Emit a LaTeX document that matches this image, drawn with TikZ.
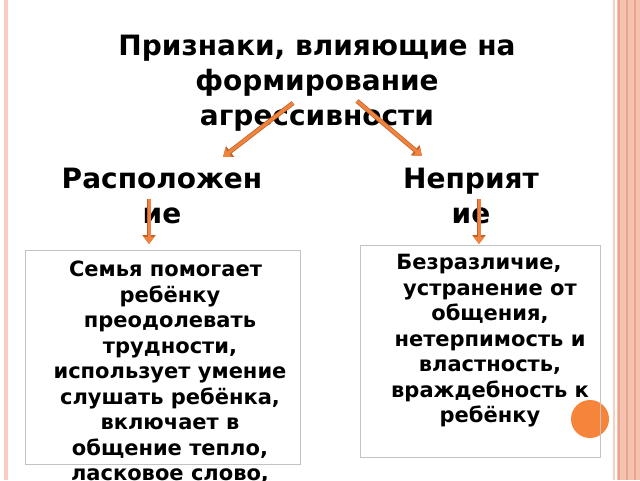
\documentclass[tikz,border=0pt]{standalone}
\usepackage{fontspec}
\setmainfont{DejaVu Sans}
\usetikzlibrary{arrows.meta}
\definecolor{arroworange}{RGB}{240,132,62}
\definecolor{arrowedge}{RGB}{196,96,38}
\definecolor{dotorange}{RGB}{246,132,58}
\definecolor{panelgrey}{RGB}{195,195,195}
\definecolor{stripepink}{RGB}{245,194,175}
\definecolor{stripedark}{RGB}{236,165,140}
\definecolor{linepink}{RGB}{250,205,190}
\tikzstyle{arrow} = [line width=3pt, draw=arroworange, -{Triangle[width=10pt,length=7pt]}, preaction={draw=arrowedge, line width=4.6pt, -{Triangle[width=13pt,length=9pt]}}]
\tikzstyle{heading} = [font=\bfseries\fontsize{28}{35}\selectfont, align=center, inner sep=0pt]
\tikzstyle{note} = [font=\bfseries\fontsize{21}{25.5}\selectfont, align=center, inner sep=0pt]
\tikzstyle{panel} = [rectangle, draw=panelgrey, line width=0.8pt, inner sep=0pt]
\begin{document}
\begin{tikzpicture}[x=1pt, y=-1pt]
				\fill[white] (0,0) rectangle (640,480);
				\useasboundingbox (0,0) rectangle (640,480);
				%side stripes
				\fill[linepink] (4,0) rectangle (8,480);
				\fill[linepink] (613,0) rectangle (615,480);
				\fill[stripepink] (617,0) rectangle (640,480);
				\foreach \x in {618,626,634} \fill[stripedark] (\x,0) rectangle ++(1.5,480);
				
				%\node(label)[type]{name}
				\node(title)[heading] at (317,83){Признаки, влияющие на\\формирование\\агрессивности};
				\node(pos)[heading] at (162,196){Расположен\\ие};
				\node(neg)[heading] at (471,196){Неприят\\ие};
				
				\node(dot)[circle, fill=dotorange, minimum size=38, inner sep=0pt] at (590,419){};
				\node(leftbox)[panel, minimum width=275, minimum height=214] at (162.5,357){};
				\node(rightbox)[panel, minimum width=240, minimum height=212] at (480,351){};
				
				\node(lefttext)[note, anchor=north] at (170,261){Семья помогает\hspace{9pt}\mbox{}\\ребёнку\\преодолевать\\трудности,\\использует умение\\слушать ребёнка,\\включает в\\общение тепло,\\ласковое слово,};
				\node(righttext)[note, anchor=north] at (490,254){Безразличие,\hspace{22pt}\mbox{}\\устранение от\\общения,\\нетерпимость и\\властность,\\враждебность к\\ребёнку};
				
				\coordinate(lstart) at (293,103);
				\coordinate(lend) at (223,157);
				\coordinate(rstart) at (357,101);
				\coordinate(rend) at (422,156);
				\coordinate(ldown) at (149,199);
				\coordinate(lbox) at (149,244);
				\coordinate(rdown) at (479,199);
				\coordinate(rbox) at (479,244);
				
				%arrows
					\draw [arrow] (lstart) -- (lend);
					\draw [arrow] (rstart) -- (rend);
					\draw [arrow] (ldown) -- (lbox);
					\draw [arrow] (rdown) -- (rbox);
\end{tikzpicture}
\end{document}
